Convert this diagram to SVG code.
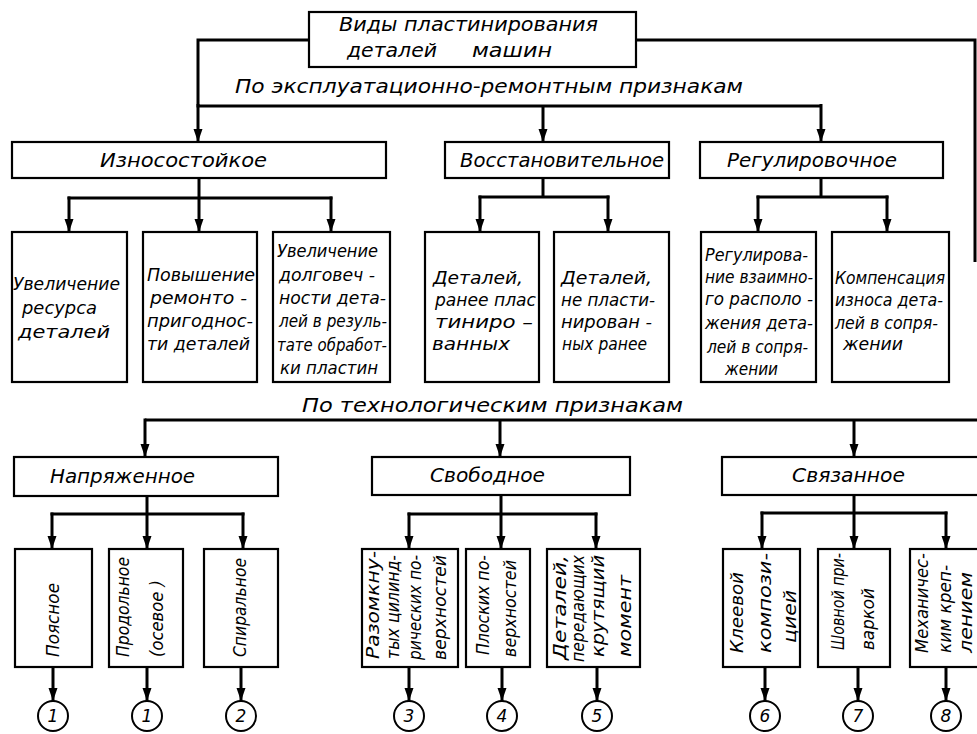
<svg xmlns="http://www.w3.org/2000/svg" width="977" height="734" viewBox="0 0 977 734">
<defs>
<style>
.bx{fill:#fff;stroke:#000;stroke-width:2.2}
.cn{fill:none;stroke:#000;stroke-width:3;stroke-linejoin:miter}
.ar{fill:none;stroke:#000;stroke-width:3;marker-end:url(#arr)}
.t{font-family:"DejaVu Sans","Liberation Sans",sans-serif;font-style:italic;fill:#000}
.h{font-size:19px}
.m{font-size:17px}
.v{font-size:18px}
.n{font-size:17px;text-anchor:middle}
.c{fill:#fff;stroke:#000;stroke-width:2}
</style>
<marker id="arr" markerUnits="userSpaceOnUse" markerWidth="14" markerHeight="10" refX="13" refY="5" orient="auto">
<path d="M0,0.5 L13,5 L0,9.5 z" fill="#000"/>
</marker>
</defs>
<rect width="977" height="734" fill="#fff"/>

<g id="connectors">
<polyline class="cn" points="309,40 198,40 198,106 821,106"/>
<line class="ar" x1="198" y1="104" x2="198" y2="142"/>
<line class="ar" x1="543" y1="106" x2="543" y2="142"/>
<line class="ar" x1="821" y1="104" x2="821" y2="142"/>
<polyline class="cn" points="636,40 975,40 975,262"/>
<polyline class="cn" points="977,420 145,420"/>
<line class="ar" x1="145" y1="418.5" x2="145" y2="457"/>
<line class="ar" x1="500" y1="420" x2="500" y2="457"/>
<line class="ar" x1="854" y1="420" x2="854" y2="457"/>
<line class="cn" x1="199" y1="178" x2="199" y2="198"/>
<line class="cn" x1="67.5" y1="198" x2="332.5" y2="198"/>
<line class="ar" x1="69" y1="196.5" x2="69" y2="232"/>
<line class="ar" x1="199" y1="198" x2="199" y2="232"/>
<line class="ar" x1="331" y1="196.5" x2="331" y2="232"/>
<line class="cn" x1="543" y1="178" x2="543" y2="197"/>
<line class="cn" x1="478.5" y1="197" x2="609.5" y2="197"/>
<line class="ar" x1="480" y1="195.5" x2="480" y2="232"/>
<line class="ar" x1="608" y1="195.5" x2="608" y2="232"/>
<line class="cn" x1="821" y1="178" x2="821" y2="197"/>
<line class="cn" x1="756.5" y1="197" x2="888.5" y2="197"/>
<line class="ar" x1="758" y1="195.5" x2="758" y2="232"/>
<line class="ar" x1="887" y1="195.5" x2="887" y2="232"/>
<line class="cn" x1="147" y1="496" x2="147" y2="514"/>
<line class="cn" x1="50.5" y1="514" x2="244.5" y2="514"/>
<line class="ar" x1="52" y1="512.5" x2="52" y2="549"/>
<line class="ar" x1="147" y1="514" x2="147" y2="549"/>
<line class="ar" x1="243" y1="512.5" x2="243" y2="549"/>
<line class="cn" x1="501" y1="495" x2="501" y2="514"/>
<line class="cn" x1="407.5" y1="514" x2="597.5" y2="514"/>
<line class="ar" x1="409" y1="512.5" x2="409" y2="549"/>
<line class="ar" x1="501" y1="514" x2="501" y2="549"/>
<line class="ar" x1="596" y1="512.5" x2="596" y2="549"/>
<line class="cn" x1="854" y1="495" x2="854" y2="513"/>
<line class="cn" x1="760.5" y1="513" x2="947.5" y2="513"/>
<line class="ar" x1="762" y1="511.5" x2="762" y2="549"/>
<line class="ar" x1="854" y1="513" x2="854" y2="549"/>
<line class="ar" x1="946" y1="511.5" x2="946" y2="549"/>
<line class="ar" x1="53" y1="667" x2="53" y2="701"/>
<line class="ar" x1="147" y1="667" x2="147" y2="701"/>
<line class="ar" x1="241" y1="667" x2="241" y2="701"/>
<line class="ar" x1="409" y1="667" x2="409" y2="701"/>
<line class="ar" x1="502" y1="667" x2="502" y2="701"/>
<line class="ar" x1="597" y1="667" x2="597" y2="701"/>
<line class="ar" x1="765" y1="667" x2="765" y2="701"/>
<line class="ar" x1="858" y1="667" x2="858" y2="701"/>
<line class="ar" x1="946" y1="667" x2="946" y2="701"/>
</g>

<g id="root">
<rect class="bx" x="309" y="12" width="327" height="55"/>
<text class="t h" x="339" y="31" textLength="259" lengthAdjust="spacingAndGlyphs">Виды пластинирования</text>
<text class="t h" x="347" y="57" textLength="90" lengthAdjust="spacingAndGlyphs">деталей</text>
<text class="t h" x="472" y="57" textLength="80" lengthAdjust="spacingAndGlyphs">машин</text>
</g>

<g id="label-exploit">
<text class="t h" x="235" y="93" textLength="508" lengthAdjust="spacingAndGlyphs">По эксплуатационно-ремонтным  признакам</text>
</g>
<g id="label-tech">
<text class="t h" x="302" y="412" textLength="381" lengthAdjust="spacingAndGlyphs">По   технологическим   признакам</text>
</g>

<g id="n-iznos">
<rect class="bx" x="12" y="142" width="374" height="36"/>
<text class="t h" x="100" y="167" textLength="167" lengthAdjust="spacingAndGlyphs">Износостойкое</text>
</g>
<g id="n-vosst">
<rect class="bx" x="445" y="142" width="224" height="36"/>
<text class="t h" x="460" y="167" textLength="204" lengthAdjust="spacingAndGlyphs">Восстановительное</text>
</g>
<g id="n-regul">
<rect class="bx" x="700" y="142" width="243" height="36"/>
<text class="t h" x="727" y="167" textLength="170" lengthAdjust="spacingAndGlyphs">Регулировочное</text>
</g>

<g id="n-resurs">
<rect class="bx" x="12" y="232" width="115" height="150"/>
<text class="t m" x="13" y="290" textLength="107" lengthAdjust="spacingAndGlyphs">Увеличение</text>
<text class="t m" x="22" y="314" textLength="75" lengthAdjust="spacingAndGlyphs">ресурса</text>
<text class="t m" x="18" y="338" textLength="92" lengthAdjust="spacingAndGlyphs">деталей</text>
</g>
<g id="n-remont">
<rect class="bx" x="143" y="232" width="114" height="150"/>
<text class="t m" x="147" y="281" textLength="108" lengthAdjust="spacingAndGlyphs">Повышение</text>
<text class="t m" x="150" y="304" textLength="97" lengthAdjust="spacingAndGlyphs">ремонто -</text>
<text class="t m" x="147" y="327" textLength="106" lengthAdjust="spacingAndGlyphs">пригоднос-</text>
<text class="t m" x="147" y="350" textLength="103" lengthAdjust="spacingAndGlyphs">ти деталей</text>
</g>
<g id="n-dolg">
<rect class="bx" x="273" y="232" width="117" height="150"/>
<text class="t m" x="277" y="257" textLength="101" lengthAdjust="spacingAndGlyphs">Увеличение</text>
<text class="t m" x="279" y="281" textLength="96" lengthAdjust="spacingAndGlyphs">долговеч -</text>
<text class="t m" x="279" y="304" textLength="107" lengthAdjust="spacingAndGlyphs">ности дета-</text>
<text class="t m" x="279" y="327" textLength="108" lengthAdjust="spacingAndGlyphs">лей в резуль-</text>
<text class="t m" x="277" y="351" textLength="110" lengthAdjust="spacingAndGlyphs">тате обработ-</text>
<text class="t m" x="280" y="374" textLength="98" lengthAdjust="spacingAndGlyphs">ки пластин</text>
</g>
<g id="n-ranee">
<rect class="bx" x="425" y="232" width="114" height="150"/>
<text class="t m" x="433" y="284" textLength="90" lengthAdjust="spacingAndGlyphs">Деталей,</text>
<text class="t m" x="435" y="306" textLength="101" lengthAdjust="spacingAndGlyphs">ранее плас</text>
<text class="t m" x="435" y="328" textLength="98" lengthAdjust="spacingAndGlyphs">тиниро –</text>
<text class="t m" x="432" y="350" textLength="78" lengthAdjust="spacingAndGlyphs">ванных</text>
</g>
<g id="n-neplast">
<rect class="bx" x="554" y="232" width="115" height="150"/>
<text class="t m" x="561" y="284" textLength="91" lengthAdjust="spacingAndGlyphs">Деталей,</text>
<text class="t m" x="561" y="306" textLength="94" lengthAdjust="spacingAndGlyphs">не пласти-</text>
<text class="t m" x="561" y="328" textLength="91" lengthAdjust="spacingAndGlyphs">нирован -</text>
<text class="t m" x="562" y="350" textLength="85" lengthAdjust="spacingAndGlyphs">ных ранее</text>
</g>
<g id="n-vzaim">
<rect class="bx" x="701" y="232" width="115" height="150"/>
<text class="t m" x="705" y="261" textLength="103" lengthAdjust="spacingAndGlyphs">Регулирова-</text>
<text class="t m" x="705" y="283" textLength="108" lengthAdjust="spacingAndGlyphs">ние взаимно-</text>
<text class="t m" x="705" y="305" textLength="108" lengthAdjust="spacingAndGlyphs">го располо -</text>
<text class="t m" x="705" y="329" textLength="108" lengthAdjust="spacingAndGlyphs">жения дета-</text>
<text class="t m" x="707" y="353" textLength="101" lengthAdjust="spacingAndGlyphs">лей в сопря-</text>
<text class="t m" x="725" y="375" textLength="53" lengthAdjust="spacingAndGlyphs">жении</text>
</g>
<g id="n-komp">
<rect class="bx" x="832" y="232" width="117" height="150"/>
<text class="t m" x="835" y="284" textLength="110" lengthAdjust="spacingAndGlyphs">Компенсация</text>
<text class="t m" x="835" y="306" textLength="108" lengthAdjust="spacingAndGlyphs">износа дета-</text>
<text class="t m" x="835" y="329" textLength="103" lengthAdjust="spacingAndGlyphs">лей в сопря-</text>
<text class="t m" x="843" y="350" textLength="60" lengthAdjust="spacingAndGlyphs">жении</text>
</g>

<g id="n-napr">
<rect class="bx" x="14" y="457" width="264" height="39"/>
<text class="t h" x="50" y="483" textLength="145" lengthAdjust="spacingAndGlyphs">Напряженное</text>
</g>
<g id="n-svob">
<rect class="bx" x="372" y="457" width="258" height="38"/>
<text class="t h" x="430" y="482" textLength="115" lengthAdjust="spacingAndGlyphs">Свободное</text>
</g>
<g id="n-svyaz">
<rect class="bx" x="722" y="457" width="270" height="38"/>
<text class="t h" x="792" y="482" textLength="113" lengthAdjust="spacingAndGlyphs">Связанное</text>
</g>

<g id="n-poyas">
<rect class="bx" x="15" y="549" width="77" height="118"/>
<text class="t v" transform="translate(59,657) rotate(-90)" textLength="74" lengthAdjust="spacingAndGlyphs">Поясное</text>
</g>
<g id="n-prod">
<rect class="bx" x="109" y="549" width="74" height="118"/>
<text class="t v" transform="translate(129,657) rotate(-90)" textLength="100" lengthAdjust="spacingAndGlyphs">Продольное</text>
<text class="t v" transform="translate(163,657) rotate(-90)" textLength="77" lengthAdjust="spacingAndGlyphs">(осевое )</text>
</g>
<g id="n-spir">
<rect class="bx" x="204" y="549" width="74" height="118"/>
<text class="t v" transform="translate(246,657) rotate(-90)" textLength="99" lengthAdjust="spacingAndGlyphs">Спиральное</text>
</g>
<g id="n-razom">
<rect class="bx" x="362" y="549" width="96" height="118"/>
<text class="t v" transform="translate(379,659) rotate(-90)" textLength="108" lengthAdjust="spacingAndGlyphs">Разомкну-</text>
<text class="t v" transform="translate(399,659) rotate(-90)" textLength="104" lengthAdjust="spacingAndGlyphs">тых цилинд-</text>
<text class="t v" transform="translate(421,660) rotate(-90)" textLength="105" lengthAdjust="spacingAndGlyphs">рических по-</text>
<text class="t v" transform="translate(446,660) rotate(-90)" textLength="105" lengthAdjust="spacingAndGlyphs">верхностей</text>
</g>
<g id="n-plosk">
<rect class="bx" x="466" y="549" width="64" height="118"/>
<text class="t v" transform="translate(489,655) rotate(-90)" textLength="100" lengthAdjust="spacingAndGlyphs">Плоских по-</text>
<text class="t v" transform="translate(516,657) rotate(-90)" textLength="97" lengthAdjust="spacingAndGlyphs">верхностей</text>
</g>
<g id="n-krut">
<rect class="bx" x="547" y="549" width="93" height="118"/>
<text class="t v" transform="translate(566,660) rotate(-90)" textLength="105" lengthAdjust="spacingAndGlyphs">Деталей,</text>
<text class="t v" transform="translate(584,662) rotate(-90)" textLength="107" lengthAdjust="spacingAndGlyphs">передающих</text>
<text class="t v" transform="translate(604,657) rotate(-90)" textLength="102" lengthAdjust="spacingAndGlyphs">крутящий</text>
<text class="t v" transform="translate(631,657) rotate(-90)" textLength="82" lengthAdjust="spacingAndGlyphs">момент</text>
</g>
<g id="n-klee">
<rect class="bx" x="723" y="549" width="77" height="118"/>
<text class="t v" transform="translate(743,653) rotate(-90)" textLength="81" lengthAdjust="spacingAndGlyphs">Клеевой</text>
<text class="t v" transform="translate(771,653) rotate(-90)" textLength="100" lengthAdjust="spacingAndGlyphs">компози-</text>
<text class="t v" transform="translate(796,643) rotate(-90)" textLength="53" lengthAdjust="spacingAndGlyphs">цией</text>
</g>
<g id="n-shov">
<rect class="bx" x="818" y="549" width="72" height="118"/>
<text class="t v" transform="translate(844,650) rotate(-90)" textLength="97" lengthAdjust="spacingAndGlyphs">Шовной при-</text>
<text class="t v" transform="translate(874,650) rotate(-90)" textLength="62" lengthAdjust="spacingAndGlyphs">варкой</text>
</g>
<g id="n-meh">
<rect class="bx" x="910" y="549" width="80" height="118"/>
<text class="t v" transform="translate(928,653) rotate(-90)" textLength="100" lengthAdjust="spacingAndGlyphs">Механичес-</text>
<text class="t v" transform="translate(951,653) rotate(-90)" textLength="88" lengthAdjust="spacingAndGlyphs">ким креп-</text>
<text class="t v" transform="translate(972,653) rotate(-90)" textLength="81" lengthAdjust="spacingAndGlyphs">лением</text>
</g>

<g id="c1a"><circle class="c" cx="53" cy="716" r="15"/><text class="t n" x="53" y="722">1</text></g>
<g id="c1b"><circle class="c" cx="147" cy="716" r="15"/><text class="t n" x="147" y="722">1</text></g>
<g id="c2"><circle class="c" cx="241" cy="716" r="15"/><text class="t n" x="241" y="722">2</text></g>
<g id="c3"><circle class="c" cx="409" cy="716" r="15"/><text class="t n" x="409" y="722">3</text></g>
<g id="c4"><circle class="c" cx="502" cy="716" r="15"/><text class="t n" x="502" y="722">4</text></g>
<g id="c5"><circle class="c" cx="597" cy="716" r="15"/><text class="t n" x="597" y="722">5</text></g>
<g id="c6"><circle class="c" cx="765" cy="716" r="15"/><text class="t n" x="765" y="722">6</text></g>
<g id="c7"><circle class="c" cx="858" cy="716" r="15"/><text class="t n" x="858" y="722">7</text></g>
<g id="c8"><circle class="c" cx="946" cy="716" r="15"/><text class="t n" x="946" y="722">8</text></g>
</svg>
